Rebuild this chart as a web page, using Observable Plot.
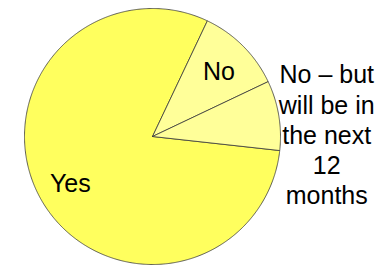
<!DOCTYPE html>
<html>
<head>
<meta charset="utf-8">
<script src="https://cdn.jsdelivr.net/npm/d3@7"></script>
<script src="https://cdn.jsdelivr.net/npm/@observablehq/plot@0.6"></script>
<style>
  html, body { margin: 0; padding: 0; background: #ffffff; }
  #chart svg { display: block; }
</style>
</head>
<body>
<div id="chart"></div>
<script>
const categories = ["Yes", "No", "No – but will be in the next 12 months"];
const values = [80.3, 10.9, 8.8];
const labels = ["Yes", "No", "No – but\nwill be in\nthe next\n12\nmonths"];
const colors = ["#FFFF5E", "#FFFF99", "#FFFF99"];

const W = 388, H = 265, R = 128, CX = 152, CY = 136;
const start = 96.3 * Math.PI / 180;

const arcs = d3.pie().sort(null).value(d => d.value)
  .startAngle(start).endAngle(start + 2 * Math.PI)(
    categories.map((c, i) => ({cat: c, value: values[i], label: labels[i], color: colors[i]}))
  );

function slicePoints(a) {
  const pts = [{x: 0, y: 0}];
  const n = Math.max(2, Math.ceil((a.endAngle - a.startAngle) / (Math.PI / 360)));
  for (let k = 0; k <= n; k++) {
    const t = a.startAngle + (a.endAngle - a.startAngle) * k / n;
    pts.push({x: Math.sin(t), y: Math.cos(t)});
  }
  pts.push({x: 0, y: 0});
  return pts;
}

const marks = arcs.map(a => Plot.line(slicePoints(a), {
  x: "x", y: "y", fill: a.data.color, stroke: "#3a3a3a", strokeWidth: 0.8, curve: "linear"
}));

const inside = arcs.filter(a => a.data.value > 10).map(a => {
  const m = (a.startAngle + a.endAngle) / 2;
  return {x: 0.735 * Math.sin(m), y: 0.735 * Math.cos(m), text: a.data.label};
});
const outside = arcs.filter(a => a.data.value <= 10).map(a => {
  const m = (a.startAngle + a.endAngle) / 2;
  return {x: Math.sin(m), y: Math.cos(m), text: a.data.label};
});

const textOpts = {fontSize: 25, fontFamily: "Liberation Sans, Arial, sans-serif",
  fill: "#000", textAnchor: "middle", lineAnchor: "middle", lineHeight: 1.21};

marks.push(Plot.text(inside, {x: "x", y: "y", text: "text", ...textOpts}));
marks.push(Plot.text(outside, {x: "x", y: "y", text: "text", dx: 48, dy: 19, ...textOpts}));

const chart = Plot.plot({
  width: W, height: H, margin: 0,
  x: {domain: [-CX / R, (W - CX) / R], axis: null},
  y: {domain: [-(H - CY) / R, CY / R], axis: null},
  style: {background: "#ffffff", overflow: "visible"},
  marks
});
document.getElementById("chart").appendChild(chart);
</script>
</body>
</html>
